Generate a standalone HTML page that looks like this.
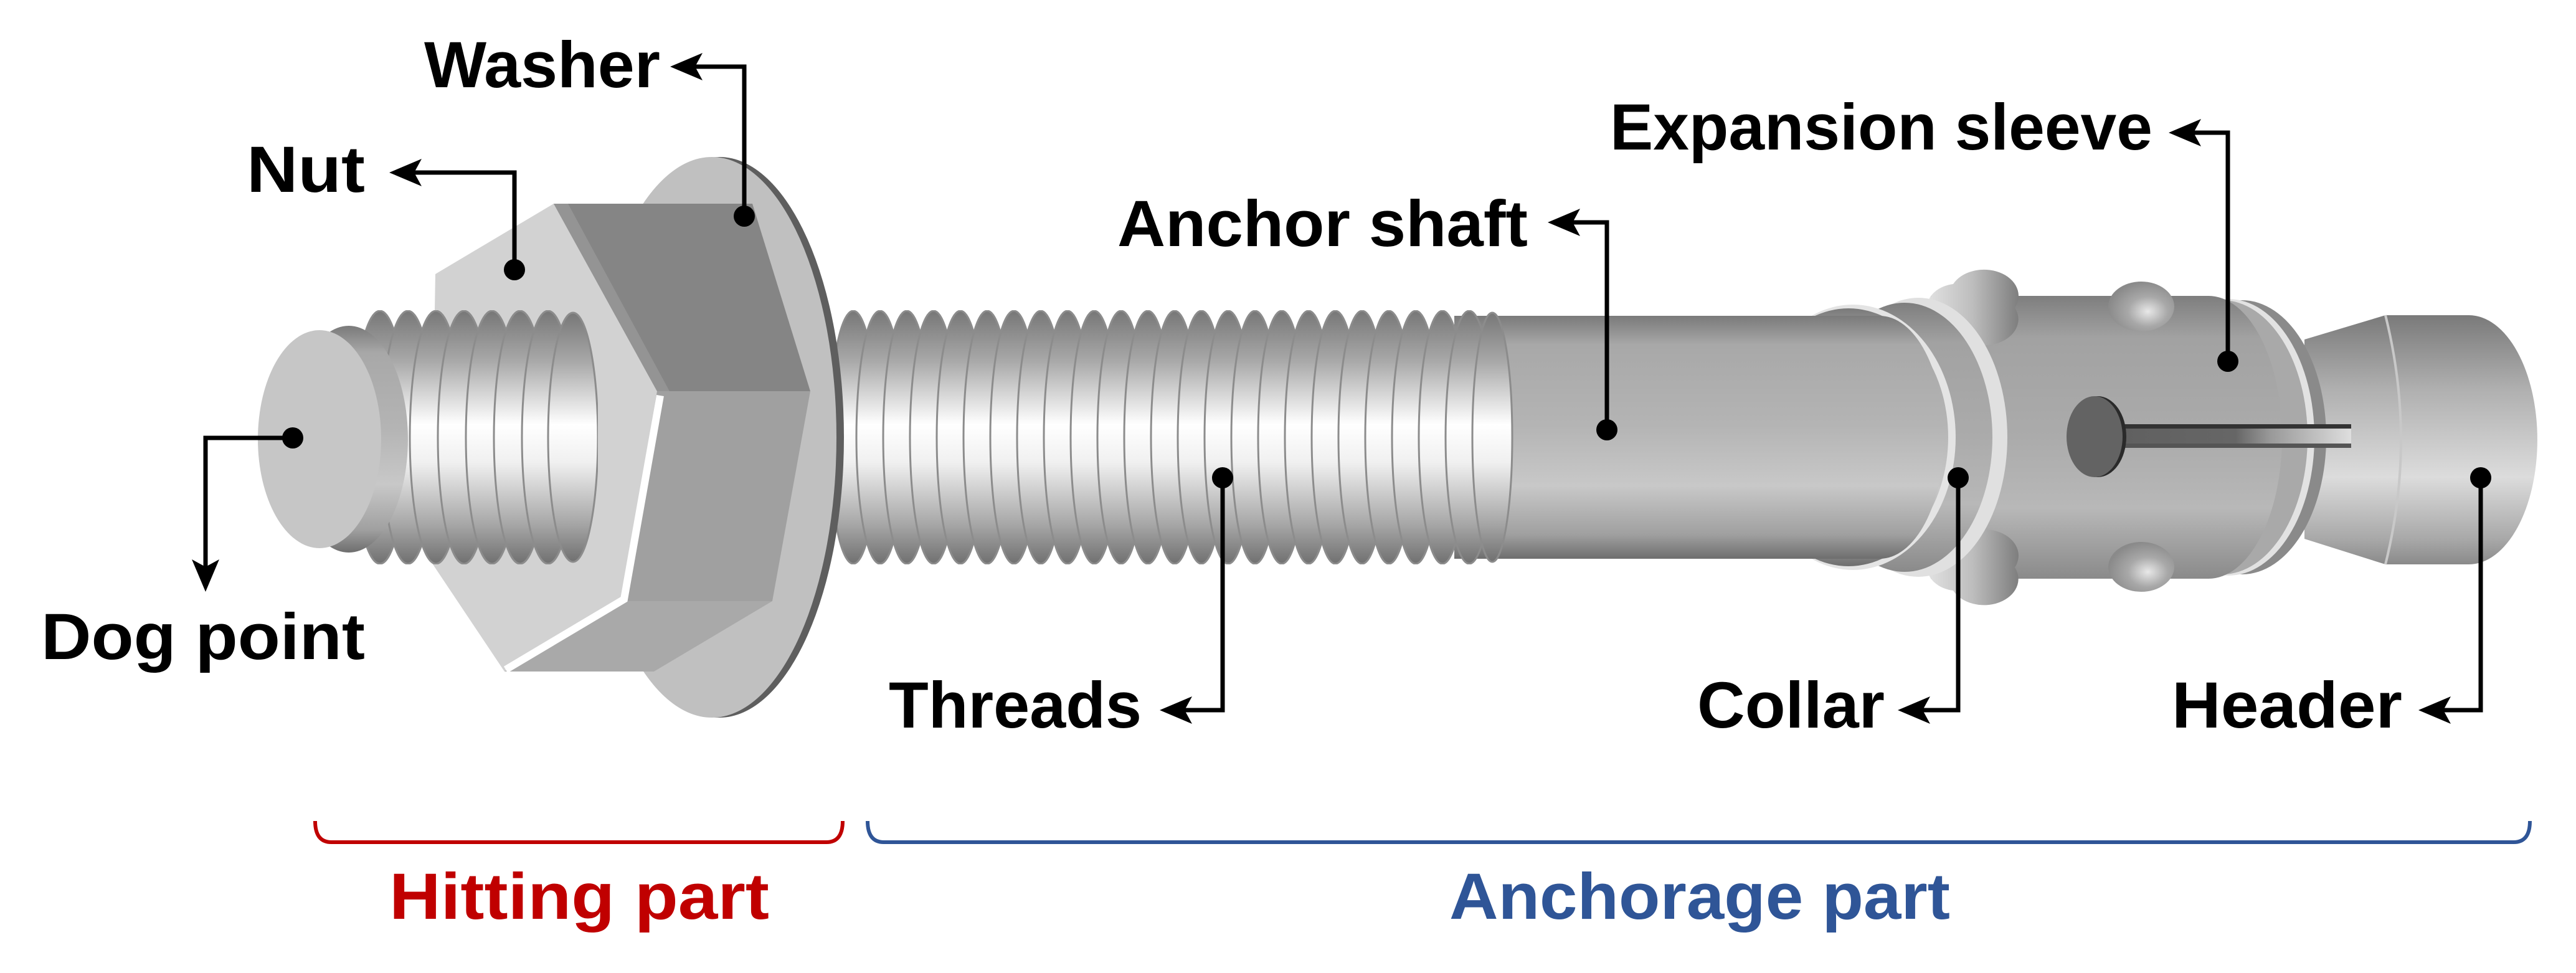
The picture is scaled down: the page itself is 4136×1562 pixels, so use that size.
<!DOCTYPE html>
<html><head><meta charset="utf-8"><style>
html,body{margin:0;padding:0;background:#fff;}
svg{display:block;}
text{font-family:"Liberation Sans",sans-serif;font-weight:bold;font-size:105px;}
</style></head><body>
<svg width="4136" height="1562" viewBox="0 0 4136 1562" xmlns="http://www.w3.org/2000/svg">
<defs>
<linearGradient id="gShaft" x1="0" y1="0" x2="0" y2="1">
<stop offset="0" stop-color="#7a7a7a"/><stop offset="0.12" stop-color="#a8a8a8"/><stop offset="0.45" stop-color="#b4b4b4"/><stop offset="0.7" stop-color="#c8c8c8"/><stop offset="0.9" stop-color="#a0a0a0"/><stop offset="1" stop-color="#6e6e6e"/></linearGradient>
<linearGradient id="gRib" x1="0" y1="0" x2="0" y2="1">
<stop offset="0" stop-color="#777"/><stop offset="0.2" stop-color="#a9a9a9"/><stop offset="0.45" stop-color="#ffffff"/><stop offset="0.6" stop-color="#f0f0f0"/><stop offset="0.85" stop-color="#a5a5a5"/><stop offset="1" stop-color="#707070"/></linearGradient>
<linearGradient id="gSleeve" x1="0" y1="0" x2="0" y2="1">
<stop offset="0" stop-color="#7e7e7e"/><stop offset="0.15" stop-color="#a2a2a2"/><stop offset="0.5" stop-color="#ababab"/><stop offset="0.75" stop-color="#b8b8b8"/><stop offset="1" stop-color="#8a8a8a"/></linearGradient>
<linearGradient id="gHead" x1="0" y1="0" x2="0" y2="1">
<stop offset="0" stop-color="#7a7a7a"/><stop offset="0.3" stop-color="#b0b0b0"/><stop offset="0.65" stop-color="#dcdcdc"/><stop offset="0.9" stop-color="#a8a8a8"/><stop offset="1" stop-color="#8a8a8a"/></linearGradient>
<linearGradient id="gSlit" x1="0" y1="0" x2="1" y2="0">
<stop offset="0" stop-color="#606060"/><stop offset="0.5" stop-color="#666"/><stop offset="0.65" stop-color="#999"/><stop offset="1" stop-color="#dedede"/></linearGradient>
<linearGradient id="gBump" x1="0" y1="0" x2="1" y2="0">
<stop offset="0" stop-color="#e2e2e2"/><stop offset="0.5" stop-color="#bdbdbd"/><stop offset="1" stop-color="#7e7e7e"/></linearGradient>
<radialGradient id="gDome" cx="0.6" cy="0.6" r="0.6">
<stop offset="0" stop-color="#e8e8e8"/><stop offset="0.5" stop-color="#a8a8a8"/><stop offset="1" stop-color="#8a8a8a"/></radialGradient>
<clipPath id="cLong"><rect x="1300" y="498" width="1200" height="408"/></clipPath>
<clipPath id="cShort"><rect x="520" y="498" width="440" height="408"/></clipPath>
</defs>

<!-- header -->
<path d="M3700,545 L3830,506 L3964,506 A110,200 0 0 1 3964,906 L3830,906 L3700,865 Z" fill="url(#gHead)"/>
<path d="M3830,506 Q3880,706 3830,906" fill="none" stroke="#c8c8c8" stroke-width="4"/>
<!-- rings at sleeve end -->
<ellipse cx="3600" cy="702" rx="135" ry="220" fill="#8a8a8a"/>
<ellipse cx="3578" cy="702" rx="138" ry="222" fill="#e2e2e2"/>
<ellipse cx="3568" cy="702" rx="137" ry="220" fill="#a9a9a9"/>
<!-- sleeve body -->
<path d="M3100,475 L3546,475 A118,227 0 0 1 3546,929 L3100,929 Z" fill="url(#gSleeve)"/>
<!-- sleeve domes -->
<ellipse cx="3438" cy="492" rx="53" ry="40" fill="url(#gDome)"/>
<ellipse cx="3438" cy="910" rx="53" ry="40" fill="url(#gDome)"/>
<!-- slot -->
<rect x="3404" y="681" width="371" height="37" fill="url(#gSlit)"/>
<rect x="3404" y="681" width="371" height="7" fill="#333"/>
<rect x="3404" y="712" width="371" height="7" fill="#555"/>
<ellipse cx="3368" cy="701" rx="46" ry="65" fill="#2a2a2a"/>
<ellipse cx="3363" cy="701" rx="45" ry="65" fill="#636363"/>
<!-- collar domes -->
<path d="M3136,531 A50,38 0 0 1 3136,456 A50,38 0 0 1 3235,494 A50,38 0 0 1 3136,531 Z" fill="url(#gBump)"/>
<path d="M3136,948 A50,38 0 0 1 3136,873 A50,38 0 0 1 3235,911 A50,38 0 0 1 3136,948 Z" fill="url(#gBump)"/>
<!-- collar rings -->
<ellipse cx="3080" cy="702" rx="143" ry="224" fill="#e0e0e0"/>
<ellipse cx="3058" cy="702" rx="141" ry="216" fill="url(#gSleeve)"/>
<ellipse cx="2975" cy="702" rx="165" ry="213" fill="#e4e4e4"/>
<ellipse cx="2968" cy="702" rx="160" ry="207" fill="url(#gShaft)"/>

<!-- shaft -->
<path d="M2335,507 L3018,507 A103,195 0 0 1 3018,897 L2335,897 Z" fill="url(#gShaft)"/>

<!-- long threads -->
<g clip-path="url(#cLong)" stroke="#8c8c8c" stroke-width="3" fill="url(#gRib)">
<ellipse cx="1370" cy="702" rx="38" ry="203"/><ellipse cx="1413" cy="702" rx="38" ry="203"/><ellipse cx="1456" cy="702" rx="38" ry="203"/><ellipse cx="1499" cy="702" rx="38" ry="203"/><ellipse cx="1542" cy="702" rx="38" ry="203"/><ellipse cx="1585" cy="702" rx="38" ry="203"/><ellipse cx="1628" cy="702" rx="38" ry="203"/><ellipse cx="1671" cy="702" rx="38" ry="203"/><ellipse cx="1714" cy="702" rx="38" ry="203"/><ellipse cx="1757" cy="702" rx="38" ry="203"/><ellipse cx="1800" cy="702" rx="38" ry="203"/><ellipse cx="1843" cy="702" rx="38" ry="203"/><ellipse cx="1886" cy="702" rx="38" ry="203"/><ellipse cx="1929" cy="702" rx="38" ry="203"/><ellipse cx="1972" cy="702" rx="38" ry="203"/><ellipse cx="2015" cy="702" rx="38" ry="203"/><ellipse cx="2058" cy="702" rx="38" ry="203"/><ellipse cx="2101" cy="702" rx="38" ry="203"/><ellipse cx="2144" cy="702" rx="38" ry="203"/><ellipse cx="2187" cy="702" rx="38" ry="203"/><ellipse cx="2230" cy="702" rx="38" ry="203"/><ellipse cx="2273" cy="702" rx="38" ry="203"/><ellipse cx="2316" cy="702" rx="38" ry="203"/><ellipse cx="2359" cy="702" rx="38" ry="203"/><ellipse cx="2396" cy="702" rx="32" ry="200"/>
</g>

<!-- washer -->
<ellipse cx="1155" cy="702" rx="200" ry="450" fill="#5e5e5e"/>
<ellipse cx="1143" cy="702" rx="200" ry="450" fill="#c0c0c0"/>

<!-- nut -->
<polygon points="699,440 889,327 1055,628 997,965 810,1078 691,900" fill="#d2d2d2"/>
<polygon points="889,327 1208,327 1301,628 1055,628" fill="#858585"/>
<polygon points="889,327 912,327 1075,628 1055,628" fill="#949494"/>
<polygon points="1055,628 1301,628 1240,965 997,965" fill="#a0a0a0"/>
<polygon points="997,965 1240,965 1050,1078 810,1078" fill="#a9a9a9"/>
<polyline points="1060,635 1002,962 812,1075" fill="none" stroke="#ffffff" stroke-width="12"/>

<!-- short threads -->
<g clip-path="url(#cShort)" stroke="#8c8c8c" stroke-width="3" fill="url(#gRib)">
<ellipse cx="610" cy="702" rx="42" ry="203"/><ellipse cx="655" cy="702" rx="42" ry="203"/><ellipse cx="700" cy="702" rx="42" ry="203"/><ellipse cx="745" cy="702" rx="42" ry="203"/><ellipse cx="790" cy="702" rx="42" ry="203"/><ellipse cx="835" cy="702" rx="42" ry="203"/><ellipse cx="880" cy="702" rx="42" ry="203"/><ellipse cx="920" cy="702" rx="40" ry="200"/>
</g>
<!-- dog point -->
<ellipse cx="560" cy="705" rx="95" ry="182" fill="url(#gShaft)"/>
<ellipse cx="513" cy="705" rx="99" ry="175" fill="#c6c6c6"/>

<!-- connectors -->
<g stroke="#000" stroke-width="7" fill="none">
<polyline points="1195,347 1195,107 1100,107"/>
<polyline points="826,433 826,277 650,277"/>
<polyline points="2580,690 2580,357 2510,357"/>
<polyline points="3577,580 3577,213 3505,213"/>
<polyline points="470,703 330,703 330,925"/>
<polyline points="1963,767 1963,1140 1885,1140"/>
<polyline points="3144,767 3144,1140 3070,1140"/>
<polyline points="3983,767 3983,1140 3905,1140"/>
</g>
<g fill="#000">
<circle cx="1195" cy="347" r="17"/><circle cx="826" cy="433" r="17"/><circle cx="2580" cy="690" r="17"/><circle cx="3577" cy="580" r="17"/>
<circle cx="470" cy="703" r="17"/><circle cx="1963" cy="767" r="17"/><circle cx="3144" cy="767" r="17"/><circle cx="3983" cy="767" r="17"/>
<polygon points="1076,107 1128,85 1116,107 1128,129"/>
<polygon points="625,277 677,255 665,277 677,299"/>
<polygon points="2485,357 2537,335 2525,357 2537,379"/>
<polygon points="3482,213 3534,191 3522,213 3534,235"/>
<polygon points="1862,1140 1914,1118 1902,1140 1914,1162"/>
<polygon points="3047,1140 3099,1118 3087,1140 3099,1162"/>
<polygon points="3883,1140 3935,1118 3923,1140 3935,1162"/>
<polygon points="330,950 308,898 330,910 352,898"/>
</g>

<!-- labels -->
<text x="681" y="140" textLength="379" lengthAdjust="spacingAndGlyphs">Washer</text>
<text x="396" y="308" textLength="190" lengthAdjust="spacingAndGlyphs">Nut</text>
<text x="1794" y="395" textLength="659" lengthAdjust="spacingAndGlyphs">Anchor shaft</text>
<text x="2585" y="240" textLength="871" lengthAdjust="spacingAndGlyphs">Expansion sleeve</text>
<text x="66" y="1058" textLength="520" lengthAdjust="spacingAndGlyphs">Dog point</text>
<text x="1427" y="1168" textLength="406" lengthAdjust="spacingAndGlyphs">Threads</text>
<text x="2725" y="1168" textLength="301" lengthAdjust="spacingAndGlyphs">Collar</text>
<text x="3487" y="1168" textLength="370" lengthAdjust="spacingAndGlyphs">Header</text>

<!-- braces -->
<path d="M506,1318 Q506,1352 532,1352 L1327,1352 Q1353,1352 1353,1318" fill="none" stroke="#c00000" stroke-width="6"/>
<path d="M1393,1318 Q1393,1352 1419,1352 L4036,1352 Q4062,1352 4062,1318" fill="none" stroke="#2f5597" stroke-width="6"/>
<text x="625" y="1475" fill="#c00000" textLength="610" lengthAdjust="spacingAndGlyphs">Hitting part</text>
<text x="2327" y="1475" fill="#2f5597" textLength="804" lengthAdjust="spacingAndGlyphs">Anchorage part</text>
</svg>
</body></html>
